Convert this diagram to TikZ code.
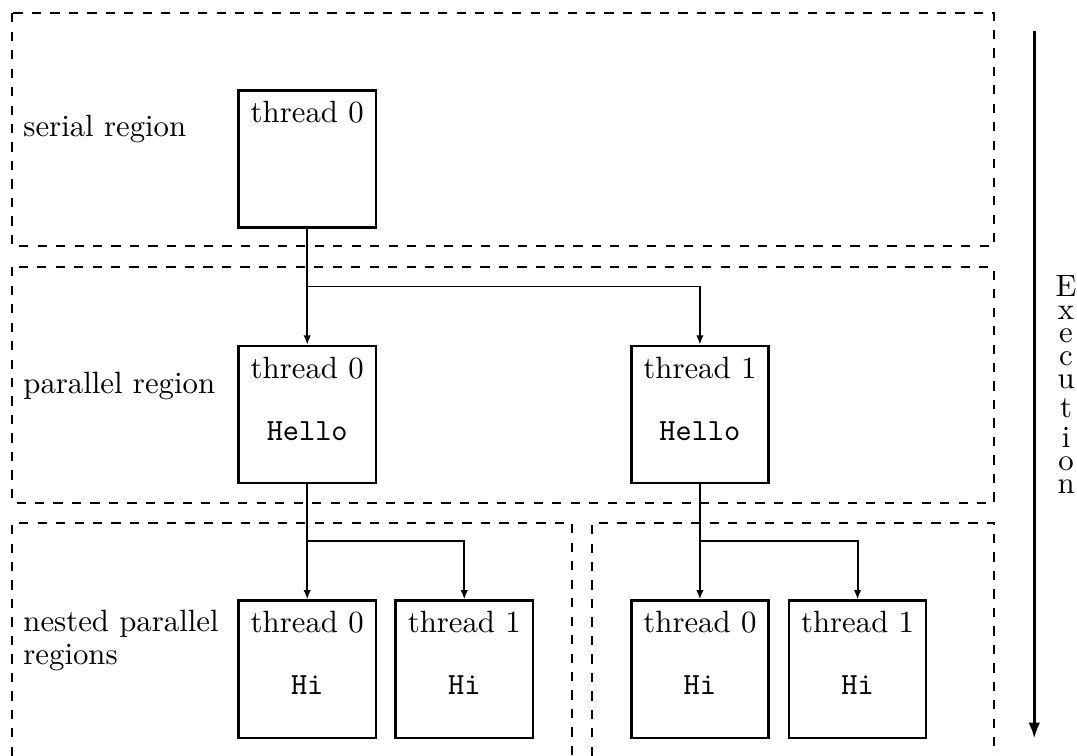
\documentclass[tikz,border=0pt]{standalone}
\usetikzlibrary{arrows.meta}

\begin{document}
\begin{tikzpicture}[
    region/.style={dashed,semithick},
    thread/.style={draw,thick,minimum width=1.565cm,minimum height=1.565cm,inner sep=0pt},
    flow/.style={semithick,-{Latex[length=3pt,width=2.4pt]}},
    exec/.style={line width=1.1pt,-{Latex[length=5.2pt,width=3.8pt]}},
    tag/.style={inner sep=0pt}]
    \useasboundingbox (0,0) rectangle (12.295,-8.63);
    % dashed regions
    \draw[region] (0.137,-0.15) rectangle (11.35,-2.81);
    \draw[region] (0.137,-3.05) rectangle (11.35,-5.74);
    \draw[region] (0.137,-8.63) |- (6.53,-5.97) -- (6.53,-8.63);
    \draw[region] (6.755,-8.63) |- (11.35,-5.97) -- (11.35,-8.63);
    \node[tag,anchor=base west] (serial) at (0.26,-1.56) {serial region};
    \node[tag,anchor=base west] (parallel) at (0.26,-4.49) {parallel region};
    \node[tag,anchor=west,align=left] (nested) at (0.26,-7.315) {nested parallel\\[-1.2pt]regions};
    % threads
    \node[thread] (s0) at (3.507,-1.813) {};
    \node[thread] (p0) at (3.507,-4.732) {};
    \node[thread] (p1) at (7.99,-4.732) {};
    \node[thread] (n00) at (3.507,-7.64) {};
    \node[thread] (n01) at (5.30,-7.64) {};
    \node[thread] (n10) at (7.99,-7.64) {};
    \node[thread] (n11) at (9.79,-7.64) {};
    \node[anchor=base] (s0-t) at ([yshift=-0.38cm]s0.north) {thread 0};
    \foreach \b/\t/\c in {p0/0/Hello,p1/1/Hello,n00/0/Hi,n01/1/Hi,n10/0/Hi,n11/1/Hi}{
      \node[anchor=base] (\b-t) at ([yshift=-0.38cm]\b.north) {thread \t};
      \node[anchor=base] (\b-c) at ([yshift=-1.09cm]\b.north) {\texttt{\c}};
    }
    % forks
    \coordinate (fork0) at (3.507,-3.27);
    \coordinate (fork1) at (3.507,-6.18);
    \coordinate (fork2) at (7.99,-6.18);
    \draw[flow] (s0.south) -- (p0.north);
    \draw[flow] (fork0) -| (p1.north);
    \draw[flow] (p0.south) -- (n00.north);
    \draw[flow] (fork1) -| (n01.north);
    \draw[flow] (p1.south) -- (n10.north);
    \draw[flow] (fork2) -| (n11.north);
    % execution
    \coordinate (start) at (11.807,-0.354);
    \coordinate (stop) at (11.807,-8.433);
    \draw[exec] (start) -- (stop);
    \node[tag,anchor=north] (execution) at (12.17,-3.14) {\shortstack{E\\x\\e\\c\\u\\t\\i\\o\\n}};
\end{tikzpicture}
\end{document}
